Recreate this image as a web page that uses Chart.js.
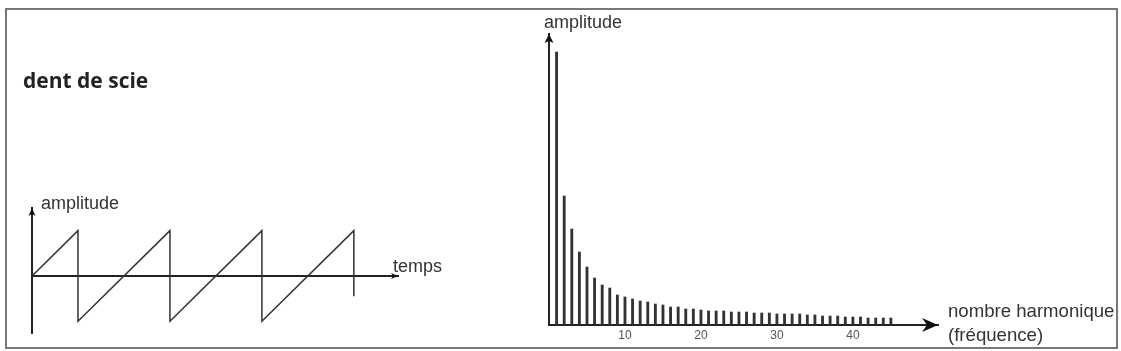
<!DOCTYPE html>
<html>
<head>
<meta charset="utf-8">
<script src="https://cdn.jsdelivr.net/npm/chart.js@4"></script>
<style>
  body { margin: 0; background: #fff; }
  #page { position: relative; width: 1121px; height: 351px; overflow: hidden; }
  #frame { position: absolute; left: 5px; top: 8px; width: 1113px; height: 341px; box-sizing: border-box; border: 2px solid #777; }
  canvas { position: absolute; top: 0; }
  .lbl { position: absolute; font-family: "Liberation Sans", Arial, sans-serif; font-size: 18px; line-height: 18px; color: #333; white-space: nowrap; }
  #title { font-family: "Open Sans", sans-serif; font-weight: bold; font-size: 21px; line-height: 22px; color: #222; }
</style>
</head>
<body>
<div id="page">
  <div id="frame"></div>
  <canvas id="saw" width="460" height="351" style="left:0"></canvas>
  <canvas id="spectrum" width="651" height="351" style="left:470px"></canvas>
  <div class="lbl" id="title" style="left:23px; top:69px">dent de scie</div>
  <div class="lbl" style="left:41px; top:194px">amplitude</div>
  <div class="lbl" style="left:393px; top:257px">temps</div>
  <div class="lbl" style="left:544px; top:13px">amplitude</div>
  <div class="lbl" style="left:948px; top:302px; font-size:18.6px">nombre harmonique</div>
  <div class="lbl" style="left:948px; top:326px; font-size:18.6px">(fréquence)</div>
</div>
<script>
// sawtooth signal (time in periods, amplitude -1..1)
const sawTime = [0, 0.5, 0.5, 1.5, 1.5, 2.5, 2.5, 3.5, 3.5];
const sawAmp = [0, 1, -1, 1, -1, 1, -1, 1, -0.45];

// spectrum: harmonic number and amplitude
const harmonics = [1, 2, 3, 4, 5, 6, 7, 8, 9, 10, 11, 12, 13, 14, 15, 16, 17, 18, 19, 20,
  21, 22, 23, 24, 25, 26, 27, 28, 29, 30, 31, 32, 33, 34, 35, 36, 37, 38, 39, 40,
  41, 42, 43, 44, 45];
const amplitudes = [273, 129, 96, 73, 58, 47, 40, 37, 30, 28, 26, 24, 23, 21, 20, 18, 18, 16, 16, 15,
  14, 14, 14, 13, 13, 13, 12, 12, 12, 11, 11, 11, 11, 10, 10, 9, 9, 9, 8, 8,
  8, 7, 7, 7, 7];
const tickLabels = [10, 20, 30, 40];

// arrow heads at the end of the axes
const arrowPlugin = {
  id: 'arrows',
  afterDraw(chart, args, opts) {
    const { ctx, chartArea } = chart;
    const y0 = chart.scales.y.getPixelForValue(0);
    const x0 = chartArea.left;
    ctx.save();
    ctx.fillStyle = '#111';
    // x arrow
    let a = opts.x;
    ctx.beginPath();
    ctx.moveTo(chartArea.right, y0);
    ctx.lineTo(chartArea.right - a.len, y0 - a.half);
    ctx.lineTo(chartArea.right - a.len + a.notch, y0);
    ctx.lineTo(chartArea.right - a.len, y0 + a.half);
    ctx.closePath();
    ctx.fill();
    // y arrow
    a = opts.y;
    ctx.beginPath();
    ctx.moveTo(x0, chartArea.top);
    ctx.lineTo(x0 - a.half, chartArea.top + a.len);
    ctx.lineTo(x0, chartArea.top + a.len - a.notch);
    ctx.lineTo(x0 + a.half, chartArea.top + a.len);
    ctx.closePath();
    ctx.fill();
    ctx.restore();
  }
};

const noSize = s => { if (s.isHorizontal()) s.height = 0; else s.width = 0; };

new Chart(document.getElementById('saw'), {
  type: 'line',
  data: {
    datasets: [{
      data: sawTime.map((t, i) => ({ x: t, y: sawAmp[i] })),
      borderColor: '#333',
      borderWidth: 1.5,
      pointRadius: 0,
      tension: 0
    }]
  },
  options: {
    responsive: false,
    animation: false,
    layout: { padding: { left: 32, right: 62, top: 208, bottom: 18 } },
    plugins: {
      legend: { display: false },
      tooltip: { enabled: false },
      arrows: { x: { len: 7, half: 3, notch: 2 }, y: { len: 8, half: 3.5, notch: 2 } }
    },
    scales: {
      x: {
        type: 'linear',
        position: { y: 0 },
        min: 0,
        max: 3.98,
        grid: { display: false },
        ticks: { display: false },
        border: { display: true, color: '#222', width: 2 },
        afterFit: noSize
      },
      y: {
        min: -1.26,
        max: 1.5,
        grid: { display: false },
        ticks: { display: false },
        border: { display: true, color: '#222', width: 2 },
        afterFit: noSize
      }
    }
  },
  plugins: [arrowPlugin]
});

new Chart(document.getElementById('spectrum'), {
  type: 'bar',
  data: {
    datasets: [{
      data: harmonics.map((h, i) => ({ x: h, y: amplitudes[i] })),
      backgroundColor: '#333',
      barThickness: 2.2
    }]
  },
  options: {
    responsive: false,
    animation: false,
    layout: { padding: { left: 79, right: 183, top: 34, bottom: 6 } },
    plugins: {
      legend: { display: false },
      tooltip: { enabled: false },
      arrows: { x: { len: 16, half: 7, notch: 5 }, y: { len: 9, half: 4.5, notch: 2 } }
    },
    scales: {
      x: {
        type: 'linear',
        offset: false,
        min: 0,
        max: 51.2,
        afterBuildTicks: s => { s.ticks = tickLabels.map(v => ({ value: v })); },
        grid: { display: false, drawTicks: false, offset: false },
        ticks: { color: '#555', font: { family: 'Liberation Sans', size: 12 }, padding: 3 },
        border: { display: true, color: '#222', width: 2 },
        afterFit: s => { s.height = 20; }
      },
      y: {
        min: 0,
        max: 291,
        grid: { display: false },
        ticks: { display: false },
        border: { display: true, color: '#222', width: 2 },
        afterFit: noSize
      }
    }
  },
  plugins: [arrowPlugin]
});
</script>
</body>
</html>
